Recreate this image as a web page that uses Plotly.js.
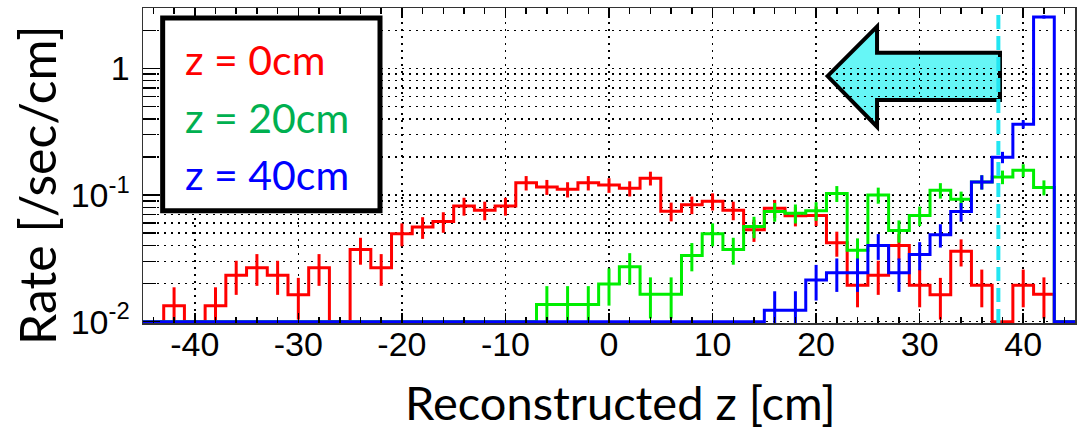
<!DOCTYPE html>
<html>
<head>
<meta charset="utf-8">
<script src="https://cdn.plot.ly/plotly-3.0.1.min.js"></script>
<style>html,body{margin:0;padding:0;background:#fff;}#chart{width:1079px;height:432px;}</style>
</head>
<body>
<div id="chart"></div>
<script>
// Bin centres (cm), 2 cm wide bins
const binCenters = [-44,-42,-40,-38,-36,-34,-32,-30,-28,-26,-24,-22,-20,-18,-16,-14,-12,-10,-8,-6,-4,-2,0,2,4,6,8,10,12,14,16,18,20,22,24,26,28,30,32,34,36,38,40,42,44];

const seriesNames = ["z = 0cm", "z = 20cm", "z = 40cm"];
const xTitle = "Reconstructed z [cm]";
const yTitle = "Rate [/sec/cm]";

// Rate [/sec/cm] per bin (0 = empty bin)
const rateZ0 = [0,0.0134,0,0.0134,0.0233,0.0267,0.0233,0.0163,0.0267,0,0.0371,0.0267,0.0496,0.056,0.0618,0.082,0.076,0.082,0.125,0.116,0.111,0.125,0.120,0.113,0.136,0.0746,0.084,0.0894,0.076,0.0533,0.0787,0.0686,0.069,0.042,0.0194,0.0233,0.040,0.0194,0.0163,0.036,0.0194,0,0.0194,0.0165,0];
const errZ0  = [0,0.0053,0,0.0053,0.0070,0.0075,0.0070,0.0059,0.0075,0,0.0089,0.0075,0.0102,0.0109,0.0114,0.0132,0.0127,0.0132,0.0163,0.0157,0.0153,0.0163,0.0159,0.0155,0.0170,0.0126,0.0133,0.0138,0.0127,0.0106,0.0129,0.0120,0.0121,0.0094,0.0064,0.0070,0.0092,0.0064,0.0059,0.0087,0.0064,0,0.0064,0.0059,0];

const rateZ20 = [0,0,0,0,0,0,0,0,0,0,0,0,0,0,0,0,0,0,0,0.0137,0.0137,0.0137,0.0199,0.0272,0.0165,0.0165,0.0334,0.0496,0.0371,0.0565,0.0741,0.072,0.0753,0.103,0.0367,0.100,0.0526,0.069,0.109,0.0925,0.127,0.139,0.157,0.115,0];
const errZ20  = [0,0,0,0,0,0,0,0,0,0,0,0,0,0,0,0,0,0,0,0.0054,0.0054,0.0054,0.0065,0.0076,0.0059,0.0059,0.0084,0.0102,0.0089,0.0109,0.0125,0.0123,0.0126,0.0148,0.0088,0.0145,0.0105,0.0121,0.0152,0.0140,0.0164,0.0171,0.0182,0.0156,0];

const rateZ40 = [0,0,0,0,0,0,0,0,0,0,0,0,0,0,0,0,0,0,0,0,0,0,0,0,0,0,0,0,0,0,0.0123,0.0123,0.0214,0.0244,0.0244,0.040,0.0244,0.034,0.0487,0.0741,0.127,0.199,0.363,2.55,0];
const errZ40  = [0,0,0,0,0,0,0,0,0,0,0,0,0,0,0,0,0,0,0,0,0,0,0,0,0,0,0,0,0,0,0.0051,0.0051,0.0067,0.0072,0.0072,0.0092,0.0072,0.0085,0.0102,0.0125,0.0164,0.0205,0.0277,0.0735,0];

const lineColors = ["#ff0000", "#00ee00", "#0000ff"];
const textColors = ["#ff0000", "#00b050", "#0000ff"];

const xTickVals = [-40,-30,-20,-10,0,10,20,30,40];
const xTickText = ["-40","-30","-20","-10","0","10","20","30","40"];
const yTickVals = [0.01, 0.1, 1];
const yTickText = ["10<sup>-2</sup>", "10<sup>-1</sup>", "1"];
const yMinorVals = [0.02,0.03,0.04,0.05,0.06,0.07,0.08,0.09,0.2,0.3,0.4,0.5,0.6,0.7,0.8,0.9,2,3];

const cutPosition = 37.6;  // cyan dashed line (cm)

const FLOOR = 0.01; // empty bins drawn on the bottom of the log axis
const BIN_W = 2;

function stepTrace(vals, color) {
  const xs = [], ys = [];
  binCenters.forEach((c, i) => { xs.push(c - BIN_W/2); ys.push(vals[i] > 0 ? vals[i] : FLOOR); });
  xs.push(binCenters[binCenters.length-1] + BIN_W/2);
  ys.push(vals[vals.length-1] > 0 ? vals[vals.length-1] : FLOOR);
  return {x: xs, y: ys, type: 'scatter', mode: 'lines', line: {shape: 'hv', color: color, width: 3}, hoverinfo: 'skip', showlegend: false};
}
function errTrace(vals, errs, color) {
  const xs = [], ys = [], es = [];
  binCenters.forEach((c, i) => { if (vals[i] > 0) { xs.push(c); ys.push(vals[i]); es.push(errs[i]); } });
  return {x: xs, y: ys, type: 'scatter', mode: 'markers', marker: {size: 1, color: 'rgba(0,0,0,0)'},
    error_y: {type: 'data', array: es, visible: true, width: 0, thickness: 3, color: color}, hoverinfo: 'skip', showlegend: false};
}

const rates = [rateZ0, rateZ20, rateZ40];
const errs = [errZ0, errZ20, errZ40];
const data = [];
for (let k = 0; k < 3; k++) {
  data.push(stepTrace(rates[k], lineColors[k]));
  data.push(errTrace(rates[k], errs[k], lineColors[k]));
}

const gridDash = '2px,5px';
const tickFont = {family: 'Arial, "Liberation Sans", sans-serif', size: 34, color: '#000'};
const layout = {
  width: 1079, height: 432,
  margin: {l: 143, r: 4, t: 8, b: 109},
  paper_bgcolor: '#ffffff', plot_bgcolor: '#ffffff',
  font: {family: 'Arial, "Liberation Sans", sans-serif', color: '#000'},
  xaxis: {
    range: [-45, 45], tickmode: 'array', tickvals: xTickVals, ticktext: xTickText,
    ticks: 'inside', ticklen: 10, tickwidth: 1.5, tickcolor: '#000',
    showgrid: true, gridcolor: '#000', gridwidth: 1.5, griddash: gridDash,
    showline: true, linecolor: '#333', linewidth: 1.5, mirror: 'ticks', zeroline: false,
    tickfont: tickFont, ticklabelstandoff: -9,
    minor: {tickmode: 'linear', tick0: 0, dtick: 2, ticks: 'inside', ticklen: 6, tickwidth: 1.5, tickcolor: '#000', showgrid: false},
    automargin: false
  },
  yaxis: {
    type: 'log', range: [-2.01, Math.log10(3)], tickmode: 'array', tickvals: yTickVals, ticktext: yTickText,
    ticks: 'inside', ticklen: 17, tickwidth: 1.5, tickcolor: '#000',
    showgrid: true, gridcolor: '#000', gridwidth: 1.5, griddash: gridDash,
    showline: true, linecolor: '#333', linewidth: 1.5, mirror: true, zeroline: false,
    tickfont: tickFont, ticklabelstandoff: 5,
    minor: {tickmode: 'array', tickvals: yMinorVals, ticks: 'inside', ticklen: 13, tickwidth: 1.5, tickcolor: '#000',
            showgrid: true, gridcolor: '#000', gridwidth: 1.5, griddash: gridDash},
    automargin: false
  },
  shapes: [
    {type: 'path', xref: 'paper', yref: 'paper', layer: 'below',
     path: 'M 0.7345 0.784 L 0.7876 0.941 L 0.7876 0.858 L 0.9195 0.858 L 0.9195 0.708 L 0.7876 0.708 L 0.7876 0.623 Z',
     fillcolor: '#66f6f6', line: {color: '#000', width: 4}},
    {type: 'line', xref: 'x', yref: 'paper', x0: cutPosition, x1: cutPosition, y0: 0, y1: 1, layer: 'above',
     line: {color: '#22e6f2', width: 4, dash: '14px,7px'}},
    {type: 'rect', xref: 'paper', yref: 'paper', x0: 0.0211, x1: 0.2543, y0: 0.356, y1: 0.968, layer: 'above',
     fillcolor: '#ffffff', line: {color: '#000', width: 5}}
  ],
  annotations: seriesNames.map((name, k) => ({
    xref: 'paper', yref: 'paper', x: 0.043, y: [0.835, 0.651, 0.470][k], xanchor: 'left', yanchor: 'middle',
    text: name, showarrow: false, font: {family: 'Lato, sans-serif', size: 41, color: textColors[k]}
  })).concat([
    {xref: 'paper', yref: 'paper', x: 0.512, y: -0.252, xanchor: 'center', yanchor: 'middle', showarrow: false,
     text: xTitle, font: {family: 'Lato, sans-serif', size: 47, color: '#000'}},
    {xref: 'paper', yref: 'paper', x: -0.1137, y: 0.438, xanchor: 'center', yanchor: 'middle', showarrow: false,
     textangle: -90, text: yTitle, font: {family: 'Lato, sans-serif', size: 50, color: '#000'}}
  ])
};

Plotly.newPlot('chart', data, layout, {staticPlot: true, displayModeBar: false});
</script>
</body>
</html>
